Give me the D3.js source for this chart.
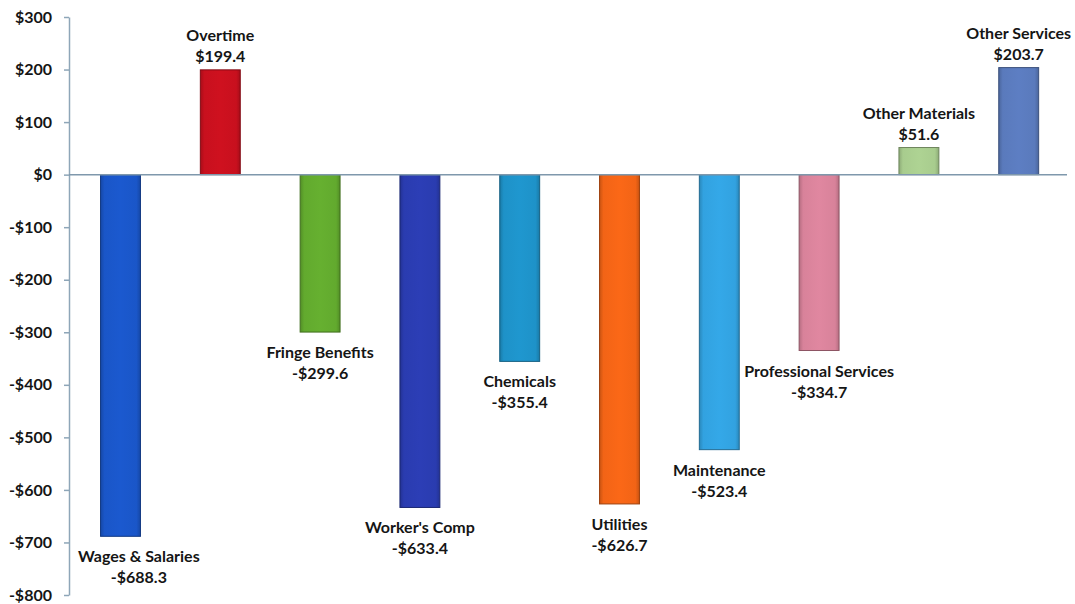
<!DOCTYPE html>
<html>
<head>
<meta charset="utf-8">
<script src="https://cdn.jsdelivr.net/npm/d3@7"></script>
<style>
  body { margin: 0; background: #fff; }
  text { font-family: Lato, "Open Sans", sans-serif; font-weight: bold; fill: #151515; }
</style>
</head>
<body>
<svg id="chart" width="1075" height="604"></svg>
<script>
// data
const categories = ['Wages & Salaries', 'Overtime', 'Fringe Benefits', "Worker's Comp", 'Chemicals',
                    'Utilities', 'Maintenance', 'Professional Services', 'Other Materials', 'Other Services'];
const values = [-688.3, 199.4, -299.6, -633.4, -355.4, -626.7, -523.4, -334.7, 51.6, 203.7];
const colors = ['#1a56c8', '#c8101e', '#62aa2e', '#2a3cb0', '#1e92c8',
                '#f26416', '#32a2e0', '#d8829a', '#a8cc8e', '#5a7abc'];
const yTicks = [300, 200, 100, 0, -100, -200, -300, -400, -500, -600, -700, -800];

const svg = d3.select('#chart');
const axisX = 69;

const x = d3.scaleBand()
    .domain(categories)
    .range([70.6, 1068.6])
    .paddingInner(0.6)
    .paddingOuter(0.3);

const y = d3.scaleLinear()
    .domain([-800, 300])
    .range([595, 17]);

const fmt = v => (v < 0 ? '-$' : '$') + Math.abs(v).toFixed(1);

// gradients, darker at the edges like the Excel bars
const defs = svg.append('defs');
colors.forEach((c, i) => {
    const grad = defs.append('linearGradient').attr('id', 'g' + i)
        .attr('x1', '0%').attr('x2', '100%').attr('y1', '0%').attr('y2', '0%');
    grad.append('stop').attr('offset', '0%').attr('stop-color', d3.color(c).darker(0.5));
    grad.append('stop').attr('offset', '10%').attr('stop-color', c);
    grad.append('stop').attr('offset', '50%').attr('stop-color', d3.color(c).brighter(0.1));
    grad.append('stop').attr('offset', '90%').attr('stop-color', c);
    grad.append('stop').attr('offset', '100%').attr('stop-color', d3.color(c).darker(0.5));
});

// y axis
const yAxis = d3.axisLeft(y)
    .tickValues(yTicks)
    .tickFormat(d => (d < 0 ? '-$' : '$') + Math.abs(d))
    .tickSize(5)
    .tickSizeOuter(0)
    .tickPadding(12);

const gy = svg.append('g')
    .attr('transform', `translate(${axisX},0)`)
    .call(yAxis);
gy.select('.domain').attr('stroke', '#8ea6b8').attr('stroke-width', 1.5);
gy.selectAll('.tick line').attr('stroke', '#8ea6b8').attr('stroke-width', 1.5);
gy.selectAll('.tick text')
    .style('font-size', '16px')
    .attr('fill', '#151515');

// bars
svg.append('g').selectAll('rect')
    .data(values)
    .enter()
    .append('rect')
    .attr('x', (d, i) => x(categories[i]))
    .attr('width', x.bandwidth())
    .attr('y', d => y(Math.max(0, d)))
    .attr('height', d => Math.abs(y(d) - y(0)))
    .attr('fill', (d, i) => `url(#g${i})`)
    .attr('stroke', (d, i) => d3.color(colors[i]).darker(1.2))
    .attr('stroke-width', 1);

// zero line
svg.append('line')
    .attr('x1', axisX).attr('x2', 1067)
    .attr('y1', y(0)).attr('y2', y(0))
    .attr('stroke', '#7f98ac')
    .attr('stroke-width', 1.5);

// labels
const labels = svg.append('g').selectAll('g')
    .data(values)
    .enter()
    .append('g');

labels.append('text')
    .attr('class', 'name')
    .attr('text-anchor', 'middle')
    .style('font-size', '16px')
    .attr('y', d => d >= 0 ? y(d) - 29 : y(d) + 26)
    .text((d, i) => categories[i]);

labels.append('text')
    .attr('class', 'val')
    .attr('text-anchor', 'middle')
    .style('font-size', '16px')
    .attr('y', d => d >= 0 ? y(d) - 8 : y(d) + 47)
    .text(d => fmt(d));

// centre on bar, but keep clear of the y axis
labels.each(function(d, i) {
    const g = d3.select(this);
    const w = g.select('.name').node().getComputedTextLength();
    let cx = x(categories[i]) + x.bandwidth() / 2;
    if (cx - w / 2 < axisX + 9) cx = axisX + 9 + w / 2;
    g.selectAll('text').attr('x', cx);
});
</script>
</body>
</html>
